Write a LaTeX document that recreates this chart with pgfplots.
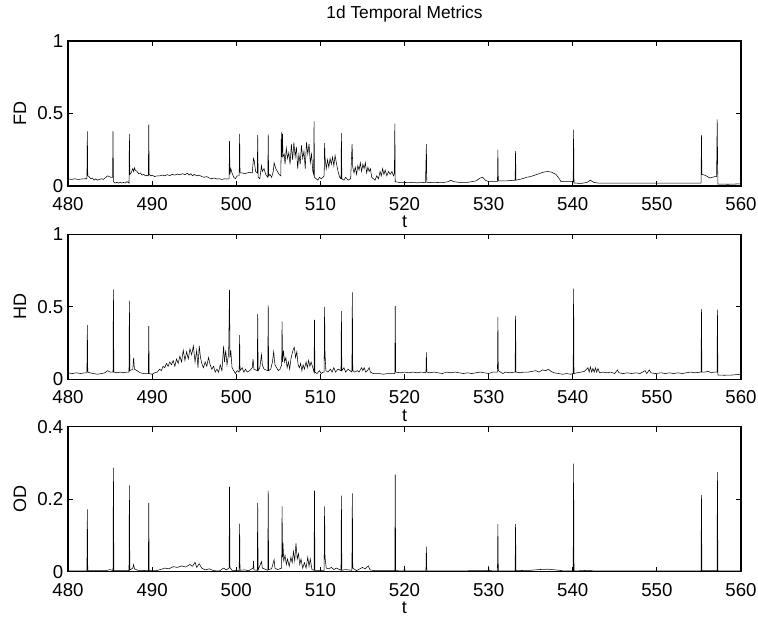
\documentclass[border=0pt]{standalone}
\usepackage{pgfplots}
\pgfplotsset{compat=1.18}
\usepackage{fontspec}
\setmainfont{Liberation Sans}

\pgfplotsset{
  panel/.style={
    scale only axis,
    width=504.75pt, height=108.8pt,
    anchor=south west,
    xmin=480, xmax=560, ymin=0,
    xtick={480,490,...,560},
    tick align=inside,
    major tick length=3.75pt,
    axis line style={line width=1.1pt},
    every tick/.style={black, line width=0.8pt},
    /pgf/number format/assume math mode=true,
    ticklabel style={font=\fontsize{14}{16}\selectfont},
    xticklabel style={anchor=center, yshift=-13.5pt},
    label style={font=\fontsize{13.5}{16}\selectfont},
    xlabel={t},
    xlabel style={at={(axis description cs:0.5,0)}, anchor=center, yshift=-27pt},
    ylabel style={at={(axis description cs:0,0.5)}, anchor=center, yshift=36pt},
    cycle list={{black, no markers, line width=1pt, line join=round}},
  }
}

\begin{document}
\begin{tikzpicture}
\path[use as bounding box] (0,0) rectangle (568.5pt,-462.75pt);

% FD
\begin{axis}[panel, at={(51pt,-139.5pt)}, ymax=1, ytick={0,0.5,1},
  ylabel={FD},
  title={1d Temporal Metrics},
  title style={at={(axis description cs:0.5,1)}, anchor=center, yshift=14pt, font=\fontsize{13}{15}\selectfont}]
\addplot coordinates {
(480.0,0.05) (480.4,0.045) (480.8,0.05) (481.2,0.045) (481.6,0.048) (482.0,0.05) (482.25,0.05) (482.3,0.376) (482.35,0.07)
(482.5,0.065) (482.7,0.05) (482.9,0.055) (483.1,0.04) (483.3,0.05) (483.5,0.04) (483.7,0.045) (484.0,0.05) (484.2,0.045)
(484.5,0.06) (484.7,0.07) (484.9,0.065) (485.1,0.06) (485.3,0.06) (485.35,0.376) (485.4,0.03) (485.6,0.02) (485.8,0.025)
(486.0,0.02) (486.2,0.025) (486.4,0.02) (486.6,0.025) (486.8,0.02) (487.0,0.03) (487.25,0.02) (487.3,0.36) (487.35,0.08)
(487.5,0.09) (487.7,0.12) (487.8,0.10) (487.9,0.125) (488.0,0.11) (488.2,0.10) (488.4,0.085) (488.6,0.09) (488.8,0.075)
(489.0,0.08) (489.2,0.07) (489.4,0.075) (489.55,0.07) (489.6,0.423) (489.65,0.08) (489.8,0.07) (490.0,0.075) (490.3,0.065)
(490.6,0.07) (490.9,0.07) (491.2,0.075) (491.5,0.07) (491.8,0.078) (492.1,0.072) (492.4,0.08) (492.7,0.075) (493.0,0.082)
(493.3,0.077) (493.6,0.085) (493.9,0.078) (494.2,0.088) (494.4,0.075) (494.6,0.085) (494.8,0.07) (495.0,0.08) (495.3,0.07)
(495.6,0.075) (495.9,0.065) (496.2,0.06) (496.5,0.065) (496.8,0.055) (497.1,0.05) (497.4,0.055) (497.7,0.048) (498.0,0.05)
(498.3,0.045) (498.6,0.05) (498.9,0.048) (499.15,0.05) (499.2,0.31) (499.25,0.08) (499.35,0.12) (499.5,0.09) (499.7,0.06)
(499.9,0.05) (500.1,0.07) (500.35,0.07) (500.4,0.36) (500.45,0.09) (500.7,0.09) (501.0,0.085) (501.3,0.09) (501.6,0.095)
(501.9,0.09) (502.05,0.19) (502.15,0.17) (502.3,0.1) (502.5,0.09) (502.55,0.35) (502.6,0.06) (502.8,0.05) (503.0,0.14)
(503.1,0.1) (503.3,0.12) (503.5,0.08) (503.75,0.06) (503.8,0.355) (503.85,0.07) (504.0,0.08) (504.2,0.06) (504.4,0.1)
(504.5,0.16) (504.7,0.12) (504.9,0.1) (505.1,0.08) (505.3,0.07) (505.36,0.37) (505.42,0.2) (505.5,0.36) (505.55,0.2)
(505.7,0.22) (505.8,0.15) (505.95,0.26) (506.1,0.19) (506.25,0.23) (506.4,0.15) (506.55,0.29) (506.7,0.18) (506.85,0.3)
(507.0,0.2) (507.15,0.27) (507.3,0.12) (507.45,0.22) (507.6,0.15) (507.75,0.28) (507.9,0.19) (508.05,0.24) (508.2,0.12)
(508.35,0.30) (508.5,0.22) (508.65,0.29) (508.8,0.16) (508.95,0.22) (509.1,0.1) (509.2,0.08) (509.25,0.446) (509.3,0.06)
(509.5,0.05) (509.7,0.04) (509.9,0.06) (510.1,0.05) (510.3,0.06) (510.45,0.07) (510.5,0.296) (510.55,0.2) (510.7,0.12)
(510.85,0.18) (511.0,0.13) (511.15,0.19) (511.3,0.15) (511.45,0.2) (511.6,0.14) (511.75,0.21) (511.9,0.16) (512.1,0.1)
(512.3,0.06) (512.45,0.05) (512.5,0.365) (512.55,0.05) (512.8,0.04) (513.0,0.06) (513.3,0.04) (513.6,0.05) (513.77,0.29)
(513.85,0.13) (514.0,0.09) (514.15,0.13) (514.3,0.08) (514.45,0.14) (514.6,0.11) (514.75,0.16) (514.9,0.1) (515.05,0.15)
(515.2,0.12) (515.35,0.16) (515.5,0.09) (515.65,0.13) (515.8,0.1) (515.95,0.12) (516.1,0.06) (516.3,0.05) (516.5,0.04)
(516.7,0.07) (516.9,0.05) (517.1,0.1) (517.25,0.07) (517.4,0.12) (517.55,0.08) (517.7,0.11) (517.9,0.07) (518.1,0.1)
(518.3,0.08) (518.5,0.1) (518.7,0.07) (518.8,0.09) (518.85,0.43) (518.9,0.03) (519.5,0.023) (520.5,0.025) (521.5,0.022)
(522.5,0.025) (522.6,0.29) (522.65,0.023) (523.5,0.025) (524.5,0.023) (525.2,0.03) (525.5,0.04) (525.8,0.03) (526.5,0.025)
(527.5,0.025) (528.5,0.035) (529.0,0.055) (529.3,0.06) (529.6,0.04) (530.0,0.03) (531.05,0.03) (531.1,0.25) (531.15,0.035)
(532.0,0.035) (533.15,0.04) (533.2,0.24) (533.25,0.04) (534.0,0.05) (534.5,0.06) (535.0,0.065) (535.5,0.075) (536.0,0.085)
(536.5,0.095) (537.0,0.1) (537.5,0.095) (538.0,0.08) (538.4,0.05) (538.6,0.03) (539.5,0.03) (540.05,0.03) (540.1,0.388)
(540.15,0.02) (541.0,0.018) (541.7,0.025) (542.1,0.04) (542.5,0.025) (543.0,0.02) (545,0.02) (550,0.02) (555,0.02)
(555.25,0.02) (555.3,0.353) (555.35,0.08) (555.7,0.075) (556.0,0.065) (556.3,0.055) (556.6,0.06) (556.9,0.065) (557.1,0.065)
(557.17,0.46) (557.25,0.013) (558.5,0.012) (560,0.015)
};
\end{axis}

% HD
\begin{axis}[panel, at={(51pt,-284.5pt)}, ymax=1, ytick={0,0.5,1},
  ylabel={HD}]
\addplot coordinates {
(480.0,0.045) (480.5,0.04) (481.0,0.045) (481.5,0.04) (482.0,0.045) (482.25,0.045) (482.3,0.374) (482.35,0.05) (482.6,0.045)
(483.0,0.04) (483.5,0.035) (484.0,0.04) (484.4,0.045) (484.7,0.06) (485.0,0.05) (485.35,0.05) (485.4,0.62) (485.45,0.05)
(485.8,0.045) (486.2,0.05) (486.6,0.045) (487.0,0.05) (487.25,0.05) (487.3,0.54) (487.35,0.06) (487.7,0.07) (487.8,0.15)
(487.9,0.07) (488.2,0.06) (488.6,0.045) (489.0,0.04) (489.55,0.04) (489.6,0.367) (489.65,0.04) (490.0,0.035) (490.3,0.045)
(490.6,0.05) (490.9,0.07) (491.1,0.06) (491.3,0.09) (491.5,0.08) (491.7,0.11) (491.9,0.09) (492.1,0.12) (492.3,0.1)
(492.5,0.13) (492.7,0.09) (492.9,0.14) (493.1,0.11) (493.3,0.16) (493.5,0.12) (493.7,0.2) (493.9,0.13) (494.1,0.19)
(494.3,0.14) (494.5,0.21) (494.7,0.17) (494.9,0.23) (495.1,0.12) (495.3,0.2) (495.45,0.08) (495.6,0.23) (495.75,0.15)
(495.9,0.11) (496.1,0.08) (496.3,0.12) (496.5,0.09) (496.7,0.15) (496.9,0.1) (497.1,0.07) (497.3,0.09) (497.5,0.05)
(497.7,0.07) (497.9,0.05) (498.1,0.1) (498.3,0.06) (498.5,0.23) (498.6,0.12) (498.75,0.2) (498.9,0.1) (499.1,0.18)
(499.2,0.615) (499.25,0.15) (499.35,0.2) (499.5,0.08) (499.7,0.06) (499.9,0.04) (500.1,0.06) (500.35,0.05) (500.4,0.305)
(500.45,0.06) (500.7,0.08) (500.9,0.05) (501.1,0.07) (501.3,0.05) (501.6,0.06) (501.9,0.08) (502.0,0.14) (502.1,0.07)
(502.5,0.06) (502.55,0.45) (502.6,0.06) (502.8,0.08) (503.0,0.17) (503.1,0.1) (503.3,0.07) (503.75,0.06) (503.8,0.51)
(503.85,0.06) (504.1,0.07) (504.3,0.12) (504.45,0.19) (504.6,0.1) (504.8,0.08) (505.0,0.06) (505.2,0.07) (505.4,0.1)
(505.45,0.40) (505.5,0.12) (505.6,0.2) (505.75,0.12) (505.9,0.15) (506.05,0.08) (506.2,0.12) (506.35,0.07) (506.5,0.14)
(506.65,0.18) (506.8,0.21) (506.9,0.22) (507.05,0.15) (507.2,0.19) (507.35,0.1) (507.5,0.08) (507.65,0.11) (507.8,0.06)
(507.95,0.1) (508.1,0.07) (508.3,0.12) (508.45,0.08) (508.6,0.13) (508.75,0.09) (508.9,0.12) (509.1,0.08) (509.25,0.05)
(509.3,0.41) (509.35,0.05) (509.6,0.04) (509.9,0.06) (510.1,0.04) (510.35,0.05) (510.45,0.05) (510.5,0.50) (510.55,0.18)
(510.65,0.06) (510.9,0.05) (511.2,0.07) (511.4,0.05) (511.6,0.08) (511.8,0.05) (512.1,0.07) (512.45,0.06) (512.5,0.47)
(512.55,0.06) (512.8,0.08) (513.0,0.05) (513.3,0.07) (513.75,0.05) (513.8,0.60) (513.85,0.06) (514.1,0.05) (514.4,0.06)
(514.6,0.05) (514.9,0.08) (515.05,0.06) (515.2,0.08) (515.4,0.05) (515.6,0.06) (515.8,0.08) (515.95,0.05) (516.3,0.04)
(517.0,0.04) (517.5,0.035) (518.0,0.04) (518.85,0.04) (518.9,0.505) (518.95,0.05) (519.5,0.045) (520.0,0.05) (520.5,0.045)
(521.0,0.05) (521.5,0.045) (522.0,0.05) (522.55,0.045) (522.6,0.186) (522.65,0.05) (523.0,0.045) (523.5,0.05) (524.0,0.045)
(524.5,0.04) (525,0.05) (525.5,0.045) (526,0.05) (526.5,0.045) (527,0.04) (527.5,0.045) (528,0.04) (528.5,0.045)
(529,0.05) (529.5,0.045) (530,0.04) (530.5,0.05) (531.05,0.05) (531.1,0.43) (531.15,0.06) (531.4,0.05) (531.7,0.04)
(532.0,0.05) (532.5,0.045) (533.15,0.05) (533.2,0.44) (533.25,0.05) (533.7,0.045) (534.2,0.05) (534.7,0.05) (535.2,0.055)
(535.6,0.06) (536,0.05) (536.4,0.065) (536.8,0.06) (537.1,0.07) (537.4,0.055) (537.8,0.045) (538.3,0.04) (538.8,0.035)
(539.3,0.04) (539.7,0.035) (540.05,0.04) (540.1,0.626) (540.15,0.04) (540.5,0.045) (541.0,0.05) (541.4,0.055) (541.8,0.08)
(541.95,0.05) (542.1,0.085) (542.25,0.05) (542.4,0.075) (542.55,0.05) (542.7,0.08) (542.85,0.05) (543.0,0.075) (543.2,0.045)
(543.6,0.05) (544,0.045) (544.5,0.05) (545.0,0.04) (545.3,0.065) (545.5,0.045) (546,0.04) (546.5,0.045) (547,0.04)
(547.5,0.045) (548,0.04) (548.6,0.06) (548.8,0.04) (549.1,0.065) (549.3,0.045) (549.8,0.04) (550.5,0.045) (551,0.04)
(551.5,0.045) (552,0.04) (552.5,0.045) (553,0.04) (553.5,0.045) (554,0.05) (554.5,0.045) (555.25,0.05) (555.3,0.484)
(555.35,0.05) (555.7,0.05) (556.1,0.055) (556.5,0.045) (556.8,0.05) (557.15,0.05) (557.2,0.48) (557.25,0.03) (558,0.028)
(559,0.03) (560,0.035)
};
\end{axis}

% OD
\begin{axis}[panel, at={(51pt,-428.8pt)}, ymax=0.4, ytick={0,0.2,0.4},
  ylabel={OD}]
\addplot coordinates {
(480,0.002) (482.25,0.002) (482.3,0.172) (482.35,0.003) (484.5,0.003) (485.0,0.006) (485.35,0.003) (485.4,0.287) (485.45,0.003)
(487.25,0.003) (487.3,0.238) (487.35,0.005) (487.7,0.01) (487.8,0.02) (487.9,0.008) (488.3,0.004) (489.55,0.003) (489.6,0.19)
(489.65,0.003) (490.5,0.003) (491,0.006) (491.5,0.01) (492,0.008) (492.5,0.014) (493,0.012) (493.5,0.016) (494,0.013)
(494.5,0.02) (494.8,0.015) (495.1,0.026) (495.3,0.012) (495.6,0.022) (495.9,0.01) (496.3,0.005) (496.8,0.008) (497.3,0.003)
(498,0.002) (498.5,0.01) (498.8,0.005) (499.15,0.01) (499.2,0.235) (499.25,0.012) (499.5,0.004) (500.35,0.003) (500.4,0.133)
(500.45,0.004) (501,0.005) (501.5,0.003) (502,0.01) (502.05,0.03) (502.1,0.005) (502.5,0.004) (502.55,0.19) (502.6,0.005)
(503.0,0.028) (503.1,0.01) (503.75,0.004) (503.8,0.224) (503.85,0.006) (504.2,0.008) (504.5,0.033) (504.6,0.01) (504.9,0.006)
(505.4,0.01) (505.45,0.18) (505.5,0.04) (505.55,0.08) (505.65,0.03) (505.8,0.045) (505.95,0.02) (506.1,0.035) (506.3,0.015)
(506.5,0.04) (506.65,0.025) (506.8,0.056) (506.95,0.03) (507.1,0.078) (507.25,0.035) (507.4,0.05) (507.55,0.02) (507.7,0.035)
(507.9,0.01) (508.1,0.025) (508.3,0.01) (508.5,0.04) (508.65,0.015) (508.8,0.035) (509.0,0.006) (509.25,0.004) (509.3,0.224)
(509.35,0.004) (510.45,0.004) (510.5,0.18) (510.55,0.04) (510.7,0.01) (511.0,0.008) (511.3,0.012) (511.6,0.006) (511.9,0.01)
(512.45,0.004) (512.5,0.21) (512.55,0.004) (513.0,0.006) (513.75,0.004) (513.8,0.216) (513.85,0.01) (514.3,0.003) (514.7,0.008)
(515.0,0.012) (515.3,0.008) (515.7,0.016) (515.9,0.005) (516.5,0.003) (518.85,0.003) (518.9,0.268) (518.95,0.003) (519.95,0.002)
(520.0,0.016) (520.05,0.002) (522.55,0.002) (522.6,0.069) (522.65,0.002) (529.95,0.003) (530.0,0.016) (530.05,0.003) (531.05,0.002)
(531.1,0.131) (531.15,0.002) (533.15,0.002) (533.2,0.131) (533.25,0.003) (535,0.004) (536,0.006) (537,0.007) (538,0.005)
(539,0.002) (540.05,0.002) (540.1,0.298) (540.15,0.002) (542,0.004) (542.5,0.002) (555.25,0.002) (555.3,0.212) (555.35,0.003)
(557.15,0.003) (557.2,0.275) (557.25,0.002) (560,0.002)
};
\end{axis}
\end{tikzpicture}
\end{document}
